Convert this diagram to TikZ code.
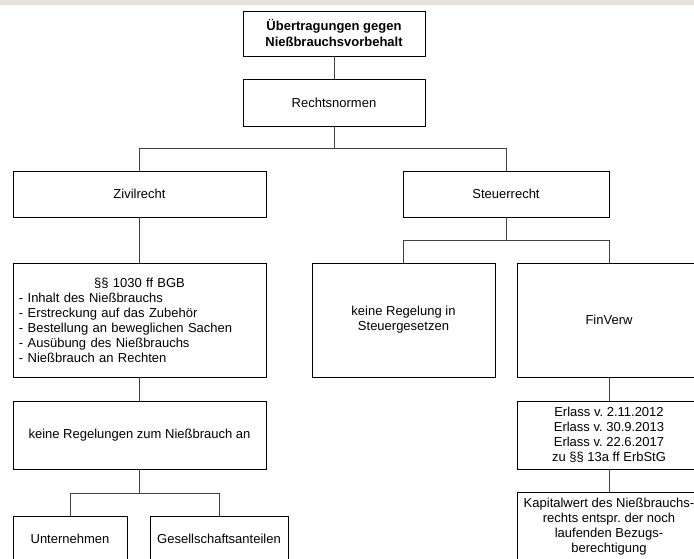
\documentclass[tikz,border=0pt]{standalone}
\usepackage{fontspec}
\setmainfont{Liberation Sans}
\frenchspacing
\definecolor{bandcol}{RGB}{229,226,221}
\begin{document}
\begin{tikzpicture}[x=1pt,y=-1pt,
  box/.style={draw=black, line width=0.9pt, inner sep=0pt, align=center,
    font=\fontsize{13}{15}\selectfont},
  conn/.style={draw=black!75, line width=0.9pt}]
\clip (0,0) rectangle (694,559);
\fill[bandcol] (0,0) rectangle (694,5.5);
% nodes
\node[box, minimum width=182, minimum height=45, font=\fontsize{13}{16}\selectfont\bfseries] (title) at (334,33.5) {Übertragungen gegen\\Nießbrauchsvorbehalt};
\node[box, minimum width=182, minimum height=47] (rechts) at (334,102.5) {Rechtsnormen};
\node[box, minimum width=253, minimum height=46] (zivil) at (139.5,194) {Zivilrecht};
\node[box, minimum width=206, minimum height=46] (steuer) at (506,194) {Steuerrecht};
\node[box, minimum width=253, minimum height=114, text width=241, align=left] (bgb) at (139.5,320)
  {\makebox[241pt]{§§ 1030 ff BGB}\\- Inhalt des Nießbrauchs\\- Erstreckung auf das Zubehör\\- Bestellung an beweglichen Sachen\\- Ausübung des Nießbrauchs\\- Nießbrauch an Rechten};
\node[box, minimum width=183, minimum height=114] (keinsteuer) at (403.5,320) {keine Regelung in\\Steuergesetzen};
\node[box, minimum width=184, minimum height=114] (finverw) at (609,320) {FinVerw};
\node[box, minimum width=253, minimum height=68] (keinreg) at (139.5,435) {keine Regelungen zum Nießbrauch an};
\node[box, minimum width=114, minimum height=46] (untern) at (70,539) {Unternehmen};
\node[box, minimum width=138, minimum height=46] (gesell) at (219,539) {Gesellschaftsanteilen};
\node[box, minimum width=184, minimum height=68] (erlass) at (609,435) {Erlass v. 2.11.2012\\Erlass v. 30.9.2013\\Erlass v. 22.6.2017\\zu §§ 13a ff ErbStG};
\node[box, minimum width=184, minimum height=70] (kapital) at (609,527) {Kapitalwert des Nießbrauchs-\\rechts entspr. der noch\\laufenden Bezugs-\\berechtigung};
% connectors
\draw[conn] (title.south) -- (rechts.north);
\draw[conn] (rechts.south) -- ++(0,22) -| (zivil.north);
\draw[conn] (rechts.south) -- ++(0,22) -| (steuer.north);
\draw[conn] (zivil.south) -- (bgb.north);
\draw[conn] (steuer.south) -- ++(0,23) -| (keinsteuer.north);
\draw[conn] (steuer.south) -- ++(0,23) -| (finverw.north);
\draw[conn] (bgb.south) -- (keinreg.north);
\draw[conn] (keinreg.south) -- ++(0,24) -| (untern.north);
\draw[conn] (keinreg.south) -- ++(0,24) -| (gesell.north);
\draw[conn] (finverw.south) -- (erlass.north);
\draw[conn] (erlass.south) -- (kapital.north);
\end{tikzpicture}
\end{document}
